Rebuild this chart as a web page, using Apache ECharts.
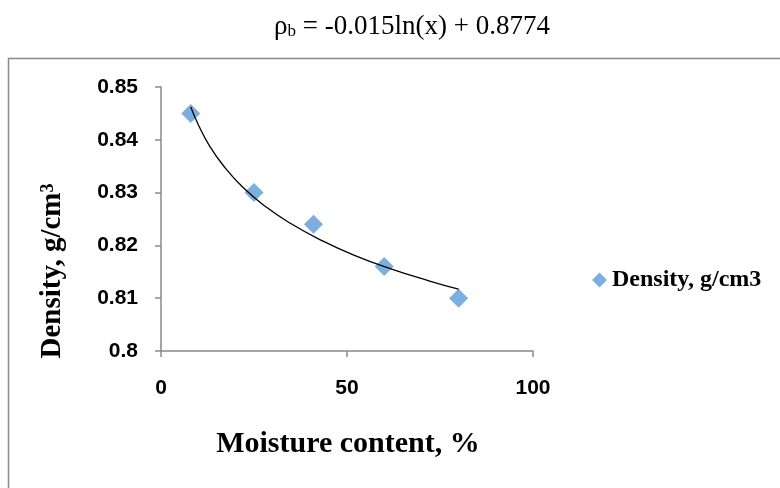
<!DOCTYPE html>
<html><head><meta charset="utf-8">
<script src="https://cdn.jsdelivr.net/npm/echarts@6/dist/echarts.min.js"></script>
<style>html,body{margin:0;padding:0;background:#fff}#c{width:780px;height:488px}</style>
</head><body><div id="c"></div>
<script>
const moisture = [8, 25, 41, 60, 80];
const density = [0.845, 0.830, 0.824, 0.816, 0.810];
const trendX = [8, 10, 13, 17, 22, 28, 35, 43, 52, 62, 72, 80];
const trendY = [0.8462, 0.8429, 0.8389, 0.8349, 0.8310, 0.8274, 0.8241, 0.8210, 0.8181, 0.8155, 0.8133, 0.8117];
const xTicks = [0, 50, 100];
const yTicks = [0.80, 0.81, 0.82, 0.83, 0.84, 0.85];
const titleMain = ' = -0.015ln(x) + 0.8774';
const xName = 'Moisture content, %';
const yName = 'Density, g/cm';
const seriesName = 'Density, g/cm3';

const serif = 'Liberation Serif';
const chart = echarts.init(document.getElementById('c'), null, {renderer:'canvas'});
chart.setOption({
  animation:false,
  backgroundColor:'#fff',
  graphic:[
    {type:'rect', shape:{x:8.5, y:58.5, width:800, height:500}, style:{fill:'none', stroke:'#898989', lineWidth:1.5}, z:-1},
    {type:'text', x:412, y:27, z:10, style:{
      text:'{r|ρ}{s|b}{r|'+titleMain+'}', align:'center', verticalAlign:'middle',
      rich:{
        r:{fontFamily:serif, fontSize:27, fill:'#000'},
        s:{fontFamily:serif, fontSize:17, fill:'#000', padding:[10,0,0,0]}
      }}},
    {type:'text', x:348, y:444, z:10, style:{
      text:xName, align:'center', verticalAlign:'middle',
      fontFamily:serif, fontWeight:'bold', fontSize:30, fill:'#000'}},
    {type:'text', x:53, y:271, rotation:Math.PI/2, z:10, style:{
      text:'{a|'+yName+'}{b|3}', align:'center', verticalAlign:'middle',
      rich:{
        a:{fontFamily:serif, fontWeight:'bold', fontSize:29, fill:'#000'},
        b:{fontFamily:serif, fontWeight:'bold', fontSize:18, fill:'#000', padding:[0,0,10,0]}
      }}}
  ],
  legend:{
    data:[{name:seriesName, icon:'diamond'}],
    left:587, top:263, itemWidth:15, itemHeight:15, itemGap:3,
    textStyle:{fontFamily:serif, fontWeight:'bold', fontSize:24, color:'#000'}
  },
  grid:{left:161, right:247, top:87, bottom:137},
  xAxis:{
    type:'value', min:0, max:100, interval:50,
    axisLine:{lineStyle:{color:'#898989', width:1.5}},
    axisTick:{show:true, length:6, lineStyle:{color:'#898989', width:1.5}},
    axisLabel:{margin:27, fontFamily:'Liberation Sans', fontWeight:'bold', fontSize:21, color:'#000',
      formatter:v=>xTicks.includes(v)?String(v):''},
    splitLine:{show:false}
  },
  yAxis:{
    type:'value', min:0.80, max:0.85, interval:0.01,
    axisLine:{show:true, lineStyle:{color:'#898989', width:1.5}},
    axisTick:{show:true, length:6, lineStyle:{color:'#898989', width:1.5}},
    axisLabel:{margin:23, fontFamily:'Liberation Sans', fontWeight:'bold', fontSize:21, color:'#000',
      formatter:v=>{const t=yTicks.find(k=>Math.abs(k-v)<1e-6); return t===undefined?'':(t===0.8?'0.8':t.toFixed(2));}},
    splitLine:{show:false}
  },
  series:[
    {
      name:'Trend', type:'line', smooth:true, showSymbol:false, symbol:'none',
      data:trendX.map((x,i)=>[x,trendY[i]]),
      lineStyle:{color:'#000', width:1.3}, z:3, silent:true
    },
    {
      name:seriesName, type:'scatter', symbol:'diamond', symbolSize:[19,19],
      data:moisture.map((x,i)=>[x,density[i]]),
      itemStyle:{color:'#5B9BD5'}, z:2
    }
  ]
});
</script></body></html>
